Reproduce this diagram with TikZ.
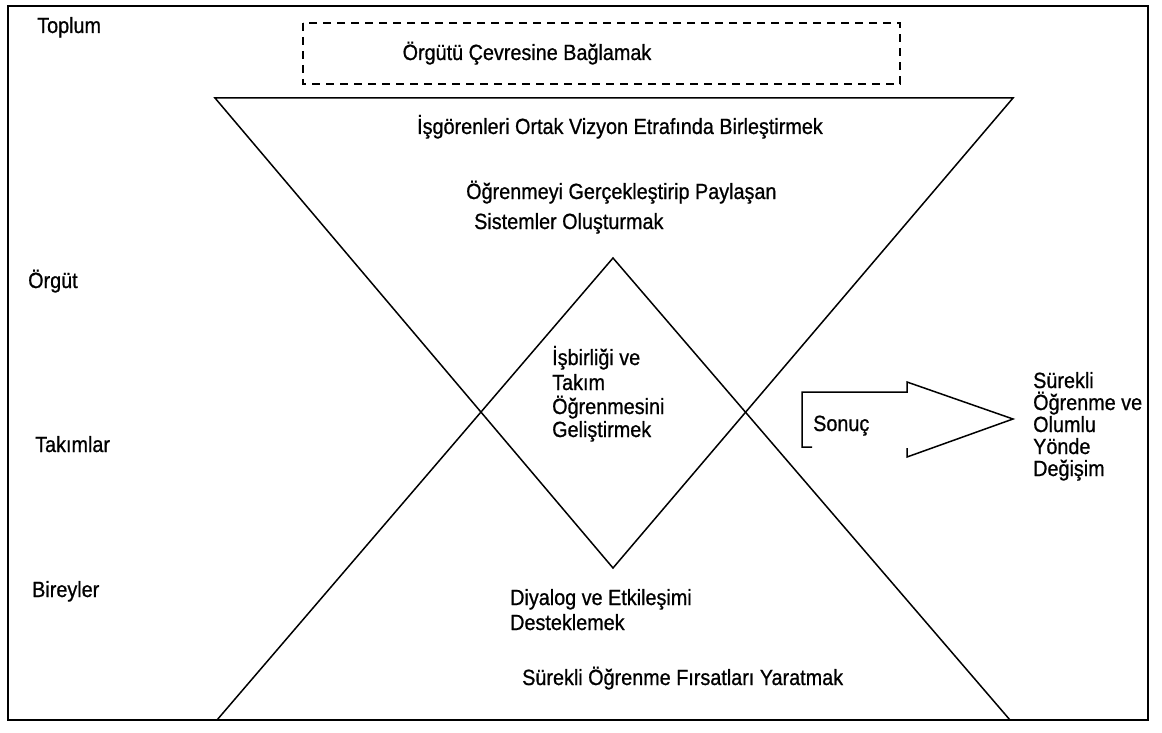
\documentclass[tikz,border=0pt]{standalone}
\usepackage{fontspec}
\setmainfont[FakeStretch=0.9,FakeBold=0.8]{Liberation Sans}
\begin{document}
\begin{tikzpicture}[x=1pt,y=-1pt,
  lbl/.style={anchor=base west,inner sep=0pt,font=\fontsize{22}{24}\selectfont},
  frame/.style={line width=1.7pt},
  tri/.style={line width=1.5pt,line join=miter},
  dashbox/.style={line width=1.5pt,dash pattern=on 8pt off 6pt}]
\useasboundingbox (0,0) rectangle (1162,733);
% outer frame
\draw[frame] (8,6) rectangle (1148,720);
% dashed box
\draw[dashbox] (303,23) rectangle (900,84);
\node[lbl,anchor=base] (cevre) at (527,60) {Örgütü Çevresine Bağlamak};
% triangles
\coordinate (tl) at (215,98);
\coordinate (tr) at (1013,98);
\coordinate (bapex) at (613,568);
\coordinate (bl) at (217,720);
\coordinate (br) at (1010,720);
\coordinate (tapex) at (613,258);
\draw[tri] (tl) -- (tr) -- (bapex) -- cycle;
\draw[tri] (bl) -- (br) -- (tapex) -- cycle;
% left labels
\node[lbl] (toplum) at (37,33) {Toplum};
\node[lbl] (orgut) at (28,288) {Örgüt};
\node[lbl] (takimlar) at (35,452) {Takımlar};
\node[lbl] (bireyler) at (32,597) {Bireyler};
% texts
\node[lbl,anchor=base] (vizyon) at (620,134) {İşgörenleri Ortak Vizyon Etrafında Birleştirmek};
\node[lbl] (sis1) at (466,199) {Öğrenmeyi Gerçekleştirip Paylaşan};
\node[lbl] (sis2) at (474,229) {Sistemler Oluşturmak};
\node[lbl] (tak1) at (552,365) {İşbirliği ve};
\node[lbl] (tak2) at (552,390) {Takım};
\node[lbl] (tak3) at (552,414) {Öğrenmesini};
\node[lbl] (tak4) at (552,437) {Geliştirmek};
\node[lbl] (dia1) at (510,605) {Diyalog ve Etkileşimi};
\node[lbl] (dia2) at (510,630) {Desteklemek};
\node[lbl] (firsat) at (522,685) {Sürekli Öğrenme Fırsatları Yaratmak};
% arrow
\coordinate (a1) at (812,447);
\coordinate (a2) at (802,447);
\coordinate (a3) at (802,392);
\coordinate (a4) at (907,392);
\coordinate (a5) at (907,382);
\coordinate (a6) at (1013,419);
\coordinate (a7) at (907,457);
\coordinate (a8) at (907,448);
\draw[tri] (a1) -- (a2) -- (a3) -- (a4) -- (a5) -- (a6) -- (a7) -- (a8);
\node[lbl] (sonuc) at (813,431) {Sonuç};
% result text
\node[lbl] (r1) at (1033,388) {Sürekli};
\node[lbl] (r2) at (1033,410) {Öğrenme ve};
\node[lbl] (r3) at (1033,432) {Olumlu};
\node[lbl] (r4) at (1033,454) {Yönde};
\node[lbl] (r5) at (1033,476) {Değişim};
\end{tikzpicture}
\end{document}
